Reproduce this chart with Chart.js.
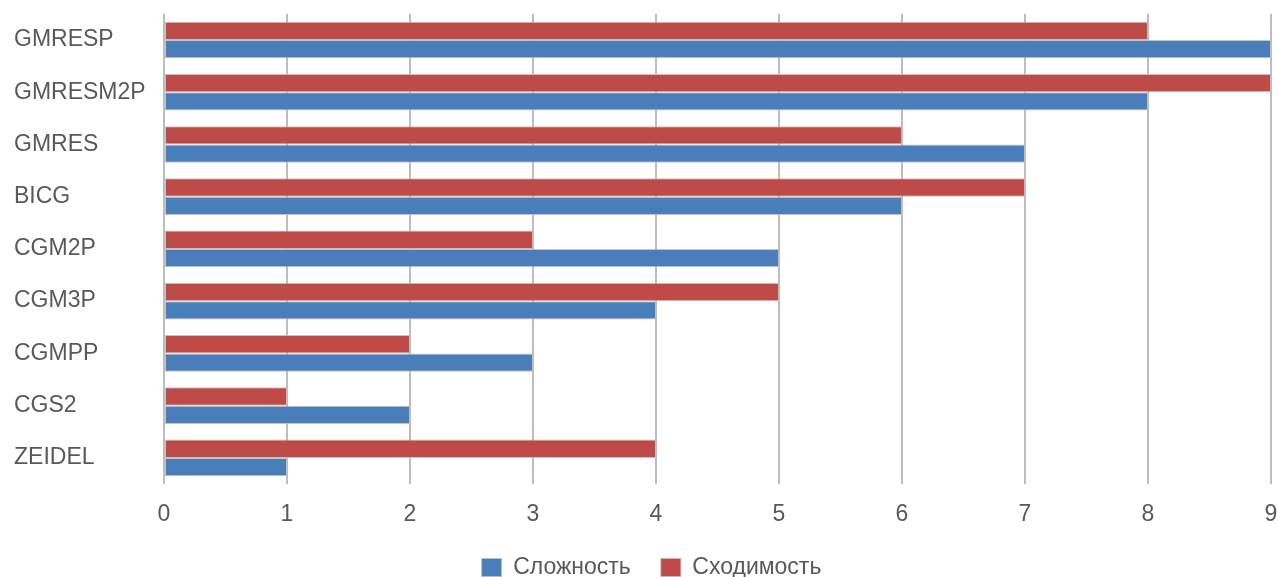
<!DOCTYPE html>
<html lang="ru">

<head>
    <meta charset="UTF-8">
    <title>Сложность и сходимость методов</title>
    <script src="https://cdn.jsdelivr.net/npm/chart.js"></script>
    <style>
        html, body { margin: 0; padding: 0; background: #fff; }
        #wrap { width: 1278px; height: 577px; }
    </style>
</head>

<body>
    <div id="wrap"><canvas id="methodsChart"></canvas></div>

    <script>
        // methods, top to bottom
        const methods = ['GMRESP', 'GMRESM2P', 'GMRES', 'BICG', 'CGM2P', 'CGM3P', 'CGMPP', 'CGS2', 'ZEIDEL'];
        // ranks per method
        const complexity = [9, 8, 7, 6, 5, 4, 3, 2, 1];   // Сложность
        const convergence = [8, 9, 6, 7, 3, 5, 2, 1, 4];  // Сходимость
        const xTicks = [0, 1, 2, 3, 4, 5, 6, 7, 8, 9];

        const textColor = '#595959';
        const font = { family: '"Liberation Sans", Arial, sans-serif', size: 23 };

        // legend is centred under the plot area rather than the whole canvas
        const legendShift = {
            id: 'legendShift',
            afterLayout(chart) {
                chart.legend.left += 9;
                chart.legend.right += 9;
            }
        };

        const ctx = document.getElementById('methodsChart').getContext('2d');
        new Chart(ctx, {
            type: 'bar',
            data: {
                labels: methods,
                // red series comes first so it sits above the blue one in each group
                datasets: [{
                    label: 'Сходимость',
                    data: convergence,
                    backgroundColor: '#be4b48',
                    borderColor: 'rgba(190,190,190,0.9)',
                    borderWidth: 1,
                    borderSkipped: false
                }, {
                    label: 'Сложность',
                    data: complexity,
                    backgroundColor: '#4a7ebb',
                    borderColor: 'rgba(190,190,190,0.9)',
                    borderWidth: 1,
                    borderSkipped: false
                }]
            },
            plugins: [legendShift],
            options: {
                indexAxis: 'y',
                responsive: true,
                maintainAspectRatio: false,
                animation: false,
                datasets: {
                    bar: { categoryPercentage: 0.7, barPercentage: 1.0 }
                },
                layout: {
                    // legend sits low, so let its bottom padding run past the edge
                    padding: { top: 12, left: 14, right: 7, bottom: -12 }
                },
                scales: {
                    x: {
                        min: 0,
                        max: 9,
                        afterBuildTicks: (axis) => { axis.ticks = xTicks.map(v => ({ value: v })); },
                        afterFit: (axis) => { axis.height = 42; },
                        grid: { color: '#bdbdbd', lineWidth: 2, tickLength: 17, tickColor: 'rgba(0,0,0,0)' },
                        border: { display: false },
                        ticks: { color: textColor, font: font, padding: 0 }
                    },
                    y: {
                        afterFit: (axis) => { axis.width = 150; },
                        grid: { display: false },
                        border: { display: false },
                        ticks: { color: textColor, font: font, crossAlign: 'far', padding: 0 }
                    }
                },
                plugins: {
                    tooltip: { enabled: false },
                    legend: {
                        position: 'bottom',
                        reverse: true,
                        labels: {
                            color: textColor,
                            font: font,
                            boxWidth: 20,
                            boxHeight: 18,
                            padding: 30
                        }
                    }
                }
            }
        });
    </script>
</body>

</html>
